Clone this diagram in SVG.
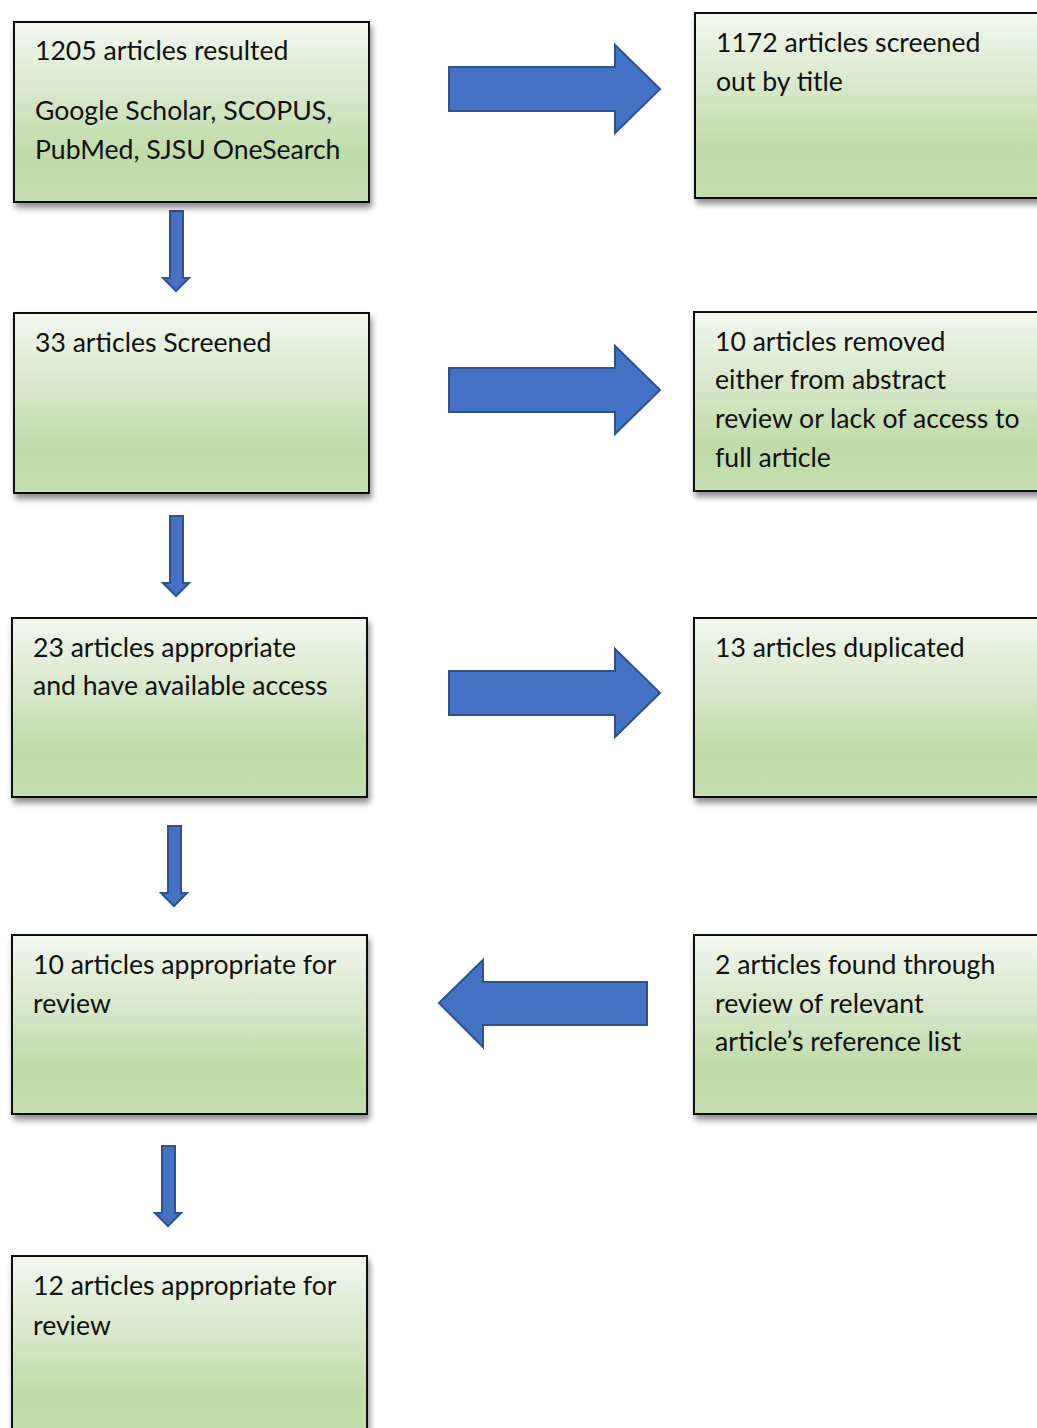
<svg xmlns="http://www.w3.org/2000/svg" width="1037" height="1428" viewBox="0 0 1037 1428">
<defs>
<linearGradient id="g" x1="0" y1="0" x2="0" y2="1">
<stop offset="0" stop-color="#f3f7ef"/>
<stop offset="0.75" stop-color="#bedba8"/>
<stop offset="1" stop-color="#c4dfb0"/>
</linearGradient>
<filter id="sh" x="-10%" y="-10%" width="125%" height="130%">
<feGaussianBlur in="SourceAlpha" stdDeviation="3"/>
<feOffset dx="2" dy="5" result="b"/>
<feComponentTransfer><feFuncA type="linear" slope="0.45"/></feComponentTransfer>
<feMerge><feMergeNode/><feMergeNode in="SourceGraphic"/></feMerge>
</filter>
</defs>
<style>
.box{fill:url(#g);stroke:#111;stroke-width:2;filter:url(#sh)}
.t{font-family:Lato,"Open Sans","Liberation Sans",sans-serif;font-size:26.6px;fill:#111}
.arr{fill:#4472c4;stroke:#2f528f;stroke-width:2;stroke-linejoin:miter}
</style>
<rect width="1037" height="1428" fill="#fff"/>
<g id="connectors">
<path class="arr" d="M449,67 H615 V45 L660,89 L615,133 V111 H449 Z"/>
<path class="arr" d="M449,368 H615 V346 L660,390 L615,434 V412 H449 Z"/>
<path class="arr" d="M449,671 H615 V649 L660,693 L615,737 V715 H449 Z"/>
<path class="arr" d="M647,982 H483 V960 L439,1003 L483,1047 V1025 H647 Z"/>
<path class="arr" d="M170,211 H183 V278 H189 L176,291 L163,278 H170 Z"/>
<path class="arr" d="M170,516 H183 V583 H189 L176,596 L163,583 H170 Z"/>
<path class="arr" d="M168,826 H181 V893 H187 L174,906 L161,893 H168 Z"/>
<path class="arr" d="M162,1146 H175 V1213 H181 L168,1226 L155,1213 H162 Z"/>
</g>
<g id="n1"><rect class="box" x="14" y="22" width="355" height="180"/>
<text class="t" x="35" y="60">1205 articles resulted</text>
<text class="t" x="35" y="120">Google Scholar, SCOPUS,</text>
<text class="t" x="35" y="159">PubMed, SJSU OneSearch</text></g>
<g id="n2"><rect class="box" x="695" y="13" width="360" height="185"/>
<text class="t" x="716" y="52">1172 articles screened</text>
<text class="t" x="716" y="91">out by title</text></g>
<g id="n3"><rect class="box" x="14" y="313" width="355" height="180"/>
<text class="t" x="35" y="352">33 articles Screened</text></g>
<g id="n4"><rect class="box" x="694" y="312" width="360" height="179"/>
<text class="t" x="715" y="351">10 articles removed</text>
<text class="t" x="715" y="389">either from abstract</text>
<text class="t" x="715" y="428">review or lack of access to</text>
<text class="t" x="715" y="467">full article</text></g>
<g id="n5"><rect class="box" x="12" y="618" width="355" height="179"/>
<text class="t" x="33" y="657">23 articles appropriate</text>
<text class="t" x="33" y="695">and have available access</text></g>
<g id="n6"><rect class="box" x="694" y="618" width="360" height="179"/>
<text class="t" x="715" y="657">13 articles duplicated</text></g>
<g id="n7"><rect class="box" x="12" y="935" width="355" height="179"/>
<text class="t" x="33" y="974">10 articles appropriate for</text>
<text class="t" x="33" y="1013">review</text></g>
<g id="n8"><rect class="box" x="694" y="935" width="360" height="179"/>
<text class="t" x="715" y="974">2 articles found through</text>
<text class="t" x="715" y="1013">review of relevant</text>
<text class="t" x="715" y="1051">article’s reference list</text></g>
<g id="n9"><rect class="box" x="12" y="1256" width="355" height="190"/>
<text class="t" x="33" y="1295">12 articles appropriate for</text>
<text class="t" x="33" y="1335">review</text></g>
</svg>
